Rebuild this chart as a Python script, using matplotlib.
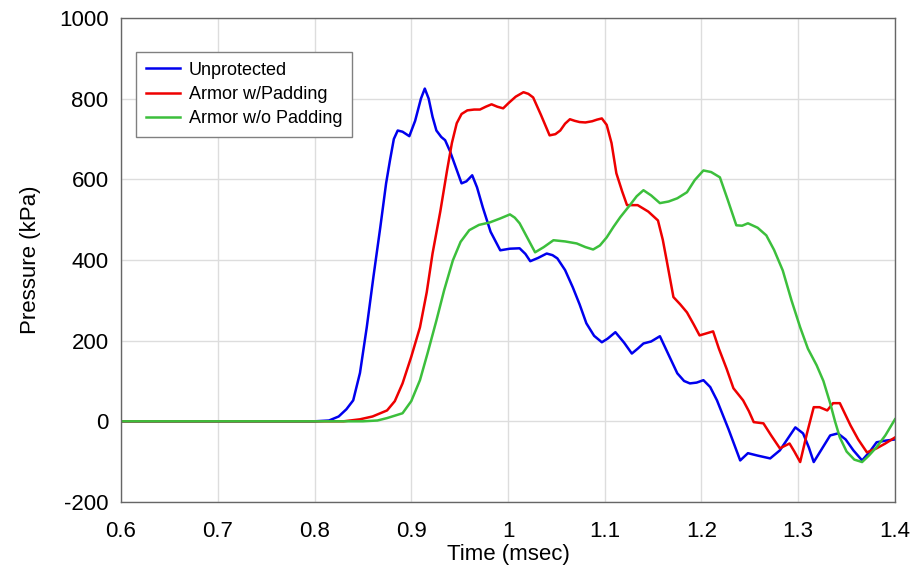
"""
Pressure-time traces: unprotected vs armor with / without padding.
"""

import matplotlib
matplotlib.use("Agg")
import matplotlib.pyplot as plt

# Unprotected
t_unprot = [0.60, 0.80, 0.815, 0.825, 0.833, 0.840, 0.847, 0.854, 0.861, 0.868, 0.874, 0.878,
            0.882, 0.886, 0.891, 0.898, 0.904, 0.910, 0.914, 0.918, 0.922, 0.926, 0.931, 0.935,
            0.940, 0.946, 0.952, 0.957, 0.963, 0.968, 0.974, 0.982, 0.992, 1.002, 1.012,
            1.018, 1.023, 1.031, 1.040, 1.046, 1.051, 1.059, 1.067, 1.074, 1.081, 1.089,
            1.097, 1.103, 1.111, 1.120, 1.128, 1.134, 1.140, 1.148, 1.157, 1.165, 1.175,
            1.182, 1.188, 1.195, 1.202, 1.209, 1.216, 1.228, 1.240, 1.248, 1.258, 1.271,
            1.281, 1.290, 1.297, 1.305, 1.311, 1.316, 1.324, 1.333, 1.341, 1.349, 1.357,
            1.366, 1.374, 1.381, 1.390, 1.400]
v_unprot = [0, 0, 2, 12, 30, 52, 120, 233, 360, 481, 590, 647,
            700, 721, 718, 707, 745, 800, 825, 800, 755, 721, 705, 697,
            670, 630, 590, 595, 610, 580, 530, 470, 424, 428, 429,
            415, 397, 405, 416, 412, 404, 375, 332, 290, 243, 212,
            196, 205, 221, 195, 168, 180, 193, 198, 211, 170, 119,
            100, 94, 96, 102, 85, 52, -20, -97, -79, -85, -92,
            -72, -40, -15, -30, -65, -101, -70, -35, -30, -45, -72,
            -97, -75, -52, -48, -45]

# Armor w/Padding
t_pad = [0.60, 0.83, 0.847, 0.860, 0.875, 0.883, 0.891, 0.900, 0.909, 0.916, 0.922, 0.930,
         0.937, 0.942, 0.947, 0.952, 0.958, 0.965, 0.971, 0.977, 0.983, 0.989, 0.995,
         1.001, 1.008, 1.016, 1.021, 1.026, 1.034, 1.043, 1.049, 1.054, 1.059, 1.064,
         1.069, 1.074, 1.080, 1.087, 1.092, 1.097, 1.102, 1.107, 1.112, 1.118, 1.123,
         1.128, 1.134, 1.145, 1.155, 1.160, 1.164, 1.171, 1.178, 1.185, 1.192, 1.198,
         1.205, 1.212, 1.218, 1.226, 1.233, 1.243, 1.249, 1.254, 1.264, 1.272, 1.281,
         1.291, 1.296, 1.302, 1.309, 1.316, 1.322, 1.330, 1.336, 1.343, 1.348, 1.354,
         1.362, 1.371, 1.381, 1.390, 1.400]
v_pad = [0, 0, 5, 12, 27, 50, 94, 160, 233, 320, 416, 520,
         622, 690, 739, 762, 771, 773, 773, 780, 786, 780, 776,
         790, 805, 816, 812, 803, 760, 709, 712, 721, 738, 749,
         745, 742, 741, 744, 748, 751, 735, 690, 615, 570, 536,
         536, 536, 520, 498, 450, 399, 308, 290, 270, 240, 213,
         218, 223, 180, 130, 82, 52, 25, -2, -5, -35, -67,
         -55, -75, -101, -30, 35, 35, 27, 45, 45, 20, -10,
         -45, -77, -67, -55, -40]

# Armor w/o Padding
t_nopad = [0.60, 0.85, 0.865, 0.875, 0.883, 0.891, 0.900, 0.909, 0.917, 0.926, 0.934, 0.943,
           0.951, 0.960, 0.970, 0.981, 0.992, 1.002, 1.007, 1.012, 1.020, 1.028, 1.037,
           1.047, 1.059, 1.071, 1.080, 1.088, 1.095, 1.102, 1.109, 1.116, 1.126, 1.133,
           1.140, 1.148, 1.157, 1.166, 1.175, 1.185, 1.193, 1.202, 1.210, 1.219, 1.227,
           1.236, 1.242, 1.248, 1.258, 1.267, 1.275, 1.284, 1.293, 1.302, 1.310, 1.319,
           1.326, 1.333, 1.338, 1.343, 1.350, 1.358, 1.366, 1.373, 1.381, 1.390, 1.400]
v_nopad = [0, 0, 2, 8, 14, 20, 50, 102, 170, 250, 325, 399,
           445, 474, 487, 493, 503, 513, 505, 491, 455, 419, 432,
           449, 446, 441, 432, 426, 436, 456, 482, 506, 536, 558,
           573, 560, 541, 545, 553, 568, 598, 622, 618, 605, 550,
           486, 485, 491, 480, 461, 425, 374, 300, 233, 180, 139,
           100, 45, 0, -40, -75, -95, -101, -85, -64, -35, 5]

series = [
    ("Unprotected", t_unprot, v_unprot, "#0000ee"),
    ("Armor w/Padding", t_pad, v_pad, "#ee0000"),
    ("Armor w/o Padding", t_nopad, v_nopad, "#3cbf3c"),
]

plt.rcParams["font.family"] = ["Liberation Sans", "DejaVu Sans"]
plt.rcParams["axes.unicode_minus"] = False

fig = plt.figure(figsize=(9.14, 5.75), dpi=100)
ax = fig.add_axes([0.1324, 0.127, 0.8468, 0.8417])

for name, t, v, color in series:
    ax.plot(t, v, color=color, lw=1.8, label=name)

ax.set_xlim(0.6, 1.4)
ax.set_ylim(-200, 1000)
ax.set_xticks([0.6, 0.7, 0.8, 0.9, 1.0, 1.1, 1.2, 1.3, 1.4])
ax.set_xticklabels(["0.6", "0.7", "0.8", "0.9", "1", "1.1", "1.2", "1.3", "1.4"])
ax.set_yticks(range(-200, 1001, 200))
ax.grid(True, color="#dddddd", lw=1.0)
ax.set_axisbelow(True)
ax.tick_params(length=0, labelsize=16)
ax.tick_params(axis="x", pad=14)
ax.tick_params(axis="y", pad=9)
for spine in ax.spines.values():
    spine.set_color("#666666")
    spine.set_linewidth(1.0)

ax.set_xlabel("Time (msec)", fontsize=16, labelpad=1)
ax.set_ylabel("Pressure (kPa)", fontsize=16, labelpad=13)

leg = ax.legend(loc="upper left", bbox_to_anchor=(0.019, 0.93), borderaxespad=0,
                fontsize=13, handlelength=1.9, handletextpad=0.5, labelspacing=0.4,
                fancybox=False, framealpha=1, edgecolor="#808080", borderpad=0.55)
leg.get_frame().set_linewidth(1.0)

fig.savefig("out.png", dpi=100)
